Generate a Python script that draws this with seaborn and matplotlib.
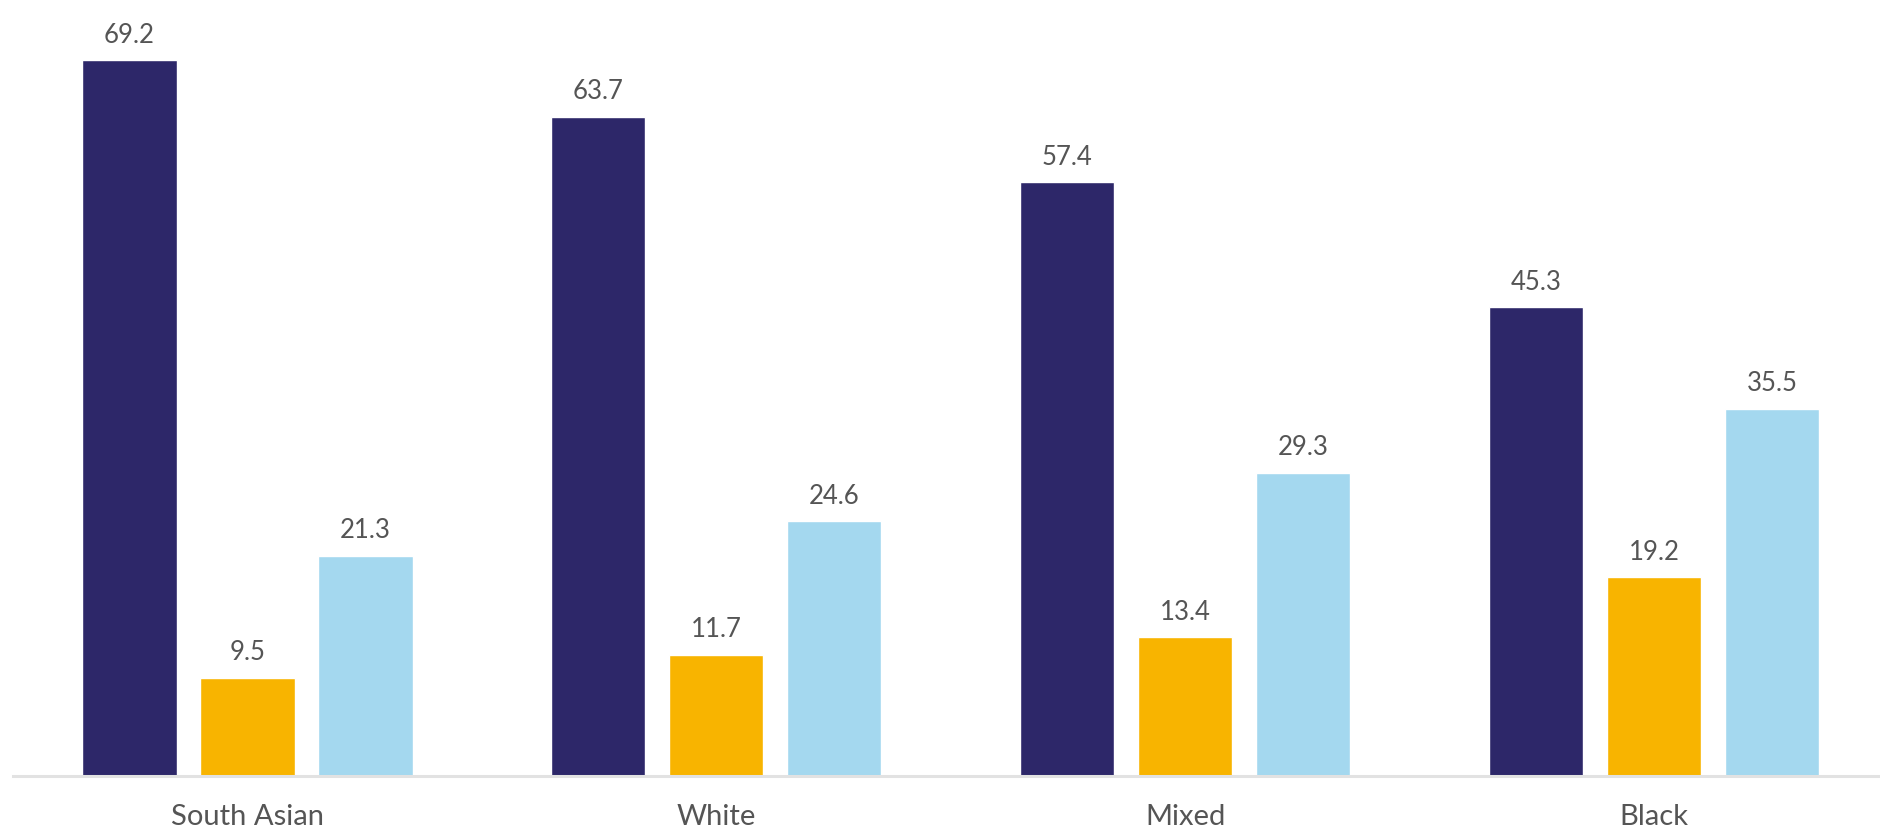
import matplotlib
matplotlib.use("Agg")
import matplotlib.pyplot as plt
import seaborn as sns
import pandas as pd

groups = ["South Asian", "White", "Mixed", "Black"]
series = ["Series A", "Series B", "Series C"]
values_a = [69.2, 63.7, 57.4, 45.3]
values_b = [9.5, 11.7, 13.4, 19.2]
values_c = [21.3, 24.6, 29.3, 35.5]
colors = ["#2d2769", "#f8b400", "#a4d8ef"]

rows = []
for s, vals in zip(series, [values_a, values_b, values_c]):
    for g, v in zip(groups, vals):
        rows.append({"group": g, "series": s, "value": v})
df = pd.DataFrame(rows)

sns.set_style("white")
plt.rcParams["font.family"] = ["Lato", "DejaVu Sans"]

fig = plt.figure(figsize=(18.8, 8.33), dpi=100)
ax = fig.add_axes([13 / 1880, 57 / 833, 1 - 13 / 1880, 1 - 57 / 833])

sns.barplot(data=df, x="group", y="value", hue="series", order=groups,
            hue_order=series, palette=colors, width=0.755, gap=0.2,
            saturation=1, ax=ax, legend=False)

for cont in ax.containers:
    ax.bar_label(cont, labels=[f"{v:.1f}" for v in cont.datavalues],
                 padding=9, fontsize=18.5, color="#555555")

ax.set_xlim(-0.5, 3.482)
ax.set_ylim(0, 75)
ax.set_xlabel("")
ax.set_ylabel("")
ax.set_yticks([])
for side in ["top", "right", "left"]:
    ax.spines[side].set_visible(False)
ax.spines["bottom"].set_color("#e2e2e2")
ax.spines["bottom"].set_linewidth(2.2)
ax.tick_params(axis="x", length=0, pad=20, labelsize=21, labelcolor="#555555")

fig.savefig("out.png", dpi=100, facecolor="white")
